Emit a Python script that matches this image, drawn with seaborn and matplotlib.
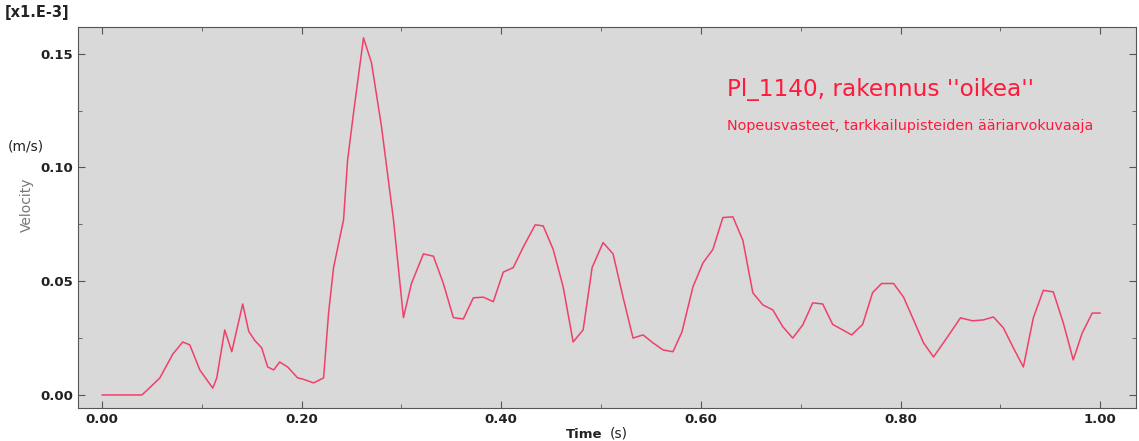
import numpy as np
import pandas as pd
import matplotlib
matplotlib.use("Agg")
import matplotlib.pyplot as plt
import seaborn as sns
from matplotlib.ticker import MultipleLocator

# Tidpunkter (s) och hastighet (x1e-3 m/s)
time = [0.00, 0.01, 0.02, 0.03, 0.04, 0.045, 0.058, 0.071, 0.081, 0.088, 0.098,
        0.111, 0.115, 0.123, 0.130, 0.141, 0.147, 0.153, 0.160, 0.166, 0.172,
        0.178, 0.186, 0.196, 0.201, 0.212, 0.222, 0.227, 0.232, 0.242, 0.246,
        0.252, 0.262, 0.270, 0.280, 0.292, 0.302, 0.310, 0.322, 0.332, 0.342,
        0.352, 0.362, 0.372, 0.382, 0.392, 0.402, 0.412, 0.422, 0.434, 0.442,
        0.452, 0.462, 0.472, 0.482, 0.491, 0.502, 0.512, 0.522, 0.532, 0.542,
        0.552, 0.562, 0.572, 0.581, 0.592, 0.602, 0.612, 0.622, 0.632, 0.642,
        0.652, 0.662, 0.672, 0.682, 0.692, 0.702, 0.712, 0.722, 0.732, 0.742,
        0.751, 0.762, 0.772, 0.781, 0.793, 0.803, 0.813, 0.823, 0.833, 0.847,
        0.860, 0.872, 0.883, 0.893, 0.903, 0.913, 0.923, 0.933, 0.943, 0.953,
        0.963, 0.973, 0.982, 0.992, 1.000]
velocity = [0.0, 0.0, 0.0, 0.0, 0.0, 0.002, 0.0075, 0.018, 0.0233, 0.022, 0.011,
            0.003, 0.0075, 0.0286, 0.019, 0.040, 0.028, 0.024, 0.0207, 0.0123, 0.011,
            0.0145, 0.0123, 0.0075, 0.007, 0.0053, 0.0075, 0.036, 0.056, 0.077, 0.103,
            0.124, 0.157, 0.146, 0.118, 0.077, 0.034, 0.049, 0.062, 0.061, 0.049,
            0.034, 0.0334, 0.0427, 0.043, 0.041, 0.054, 0.056, 0.065, 0.0748, 0.0743,
            0.064, 0.0475, 0.0233, 0.0286, 0.056, 0.067, 0.062, 0.043, 0.025, 0.0264,
            0.0229, 0.0198, 0.019, 0.0277, 0.0475, 0.058, 0.064, 0.078, 0.0783, 0.068,
            0.0449, 0.0396, 0.0374, 0.030, 0.025, 0.0308, 0.0405, 0.040, 0.031, 0.0286,
            0.0264, 0.031, 0.045, 0.049, 0.049, 0.043, 0.033, 0.0229, 0.0167, 0.0255,
            0.0339, 0.0326, 0.033, 0.0343, 0.0295, 0.0207, 0.0123, 0.0339, 0.046, 0.0453,
            0.0317, 0.0154, 0.0273, 0.036, 0.036]

df = pd.DataFrame({"Time": time, "Velocity": velocity})

sns.set_style("ticks")
plt.rcParams['font.family'] = ['DejaVu Sans']

fig = plt.figure(figsize=(11.39, 4.41), dpi=100)
ax = fig.add_axes([0.0685, 0.075, 0.929, 0.864])
ax.set_facecolor("#d9d9d9")

sns.lineplot(data=df, x="Time", y="Velocity", color="#f0406a", linewidth=1.1, ax=ax)

ax.set_xlim(-0.024, 1.036)
ax.set_ylim(-0.0057, 0.1618)
ax.xaxis.set_major_locator(MultipleLocator(0.2))
ax.xaxis.set_minor_locator(MultipleLocator(0.1))
ax.yaxis.set_major_locator(MultipleLocator(0.05))
ax.yaxis.set_minor_locator(MultipleLocator(0.025))
ax.tick_params(which="both", direction="in", top=True, right=True, colors="#555555",
               labelcolor="#222222", labelsize=9.5)
ax.tick_params(which="major", length=5)
ax.tick_params(which="minor", length=3)
ax.set_xticklabels([f"{t:.2f}" for t in ax.get_xticks()], fontweight="bold")
ax.set_yticklabels([f"{v:.2f}" for v in ax.get_yticks()], fontweight="bold")
for s in ax.spines.values():
    s.set_color("#555555")
    s.set_linewidth(0.8)

ax.set_xlabel("")
ax.set_ylabel("")
fig.text(0.024, 0.535, "Velocity", rotation=90, color="#777777", fontsize=10, va="center", ha="center")
fig.text(0.007, 0.668, "(m/s)", color="#222222", fontsize=10, va="center")
fig.text(0.004, 0.972, "[x1.E-3]", color="#222222", fontsize=10.5, fontweight="bold", va="center")
fig.text(0.497, 0.014, "Time", color="#222222", fontsize=9.5, fontweight="bold", va="center")
fig.text(0.535, 0.018, "(s)", color="#222222", fontsize=10, va="center")

ax.text(0.613, 0.835, "Pl_1140, rakennus ''oikea''", color="#ff1a3c", fontsize=16.7,
        transform=ax.transAxes, va="center")
ax.text(0.613, 0.74, "Nopeusvasteet, tarkkailupisteiden ääriarvokuvaaja", color="#ff1a3c",
        fontsize=10.4, transform=ax.transAxes, va="center")

fig.savefig("out.png", dpi=100)
